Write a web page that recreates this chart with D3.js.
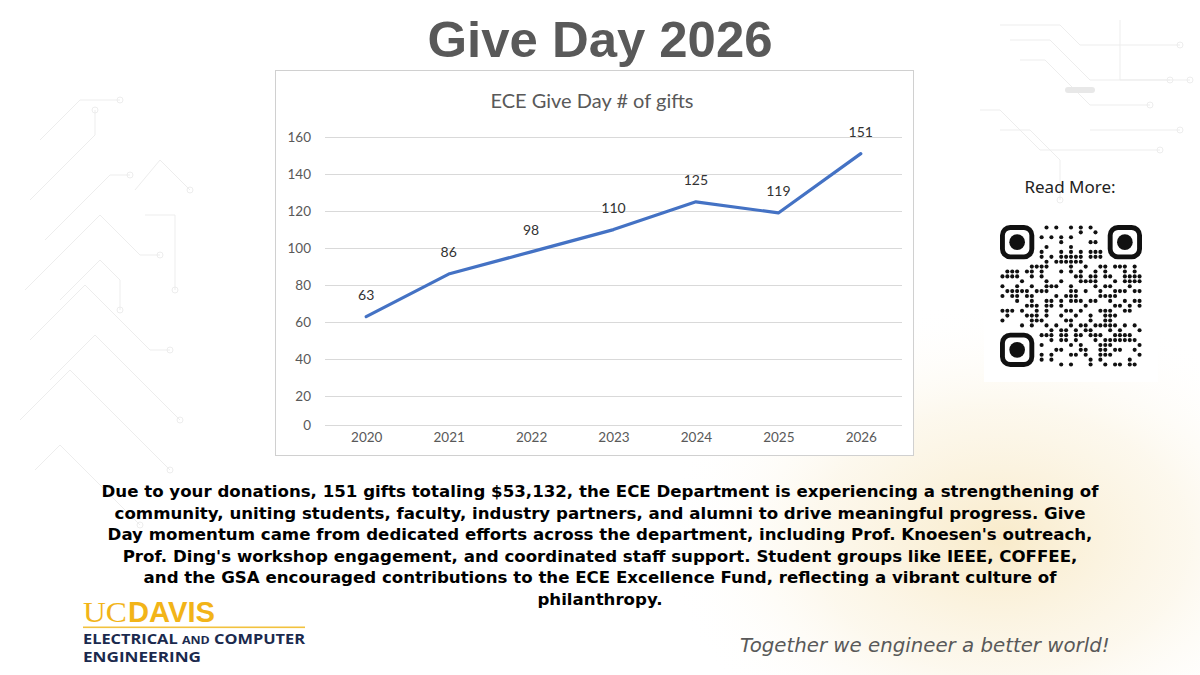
<!DOCTYPE html>
<html>
<head>
<meta charset="utf-8">
<script src="https://cdn.jsdelivr.net/npm/d3@7"></script>
<style>
  html, body { margin: 0; padding: 0; background: #ffffff; }
  svg { display: block; }
</style>
</head>
<body>
<script>
// chart values
var years = ["2020", "2021", "2022", "2023", "2024", "2025", "2026"];
var gifts = [63, 86, 98, 110, 125, 119, 151];
var yTicks = [0, 20, 40, 60, 80, 100, 120, 140, 160];

var pageTitle = "Give Day 2026";
var chartTitle = "ECE Give Day # of gifts";
var bodyLines = [
  "Due to your donations, 151 gifts totaling $53,132, the ECE Department is experiencing a strengthening of",
  "community, uniting students, faculty, industry partners, and alumni to drive meaningful progress. Give",
  "Day momentum came from dedicated efforts across the department, including Prof. Knoesen's outreach,",
  "Prof. Ding's workshop engagement, and coordinated staff support. Student groups like IEEE, COFFEE,",
  "and the GSA encouraged contributions to the ECE Excellence Fund, reflecting a vibrant culture of",
  "philanthropy."
];
var tagline = "Together we engineer a better world!";

var width = 1200, height = 675;

var svg = d3.select("body").append("svg")
    .attr("width", width)
    .attr("height", height);

var defs = svg.append("defs");
var glow = defs.append("radialGradient").attr("id", "glow")
    .attr("cx", "50%").attr("cy", "50%").attr("r", "50%");
glow.append("stop").attr("offset", "0%").attr("stop-color", "#f6e2b3").attr("stop-opacity", 0.7);
glow.append("stop").attr("offset", "55%").attr("stop-color", "#f9eed3").attr("stop-opacity", 0.4);
glow.append("stop").attr("offset", "100%").attr("stop-color", "#ffffff").attr("stop-opacity", 0);

svg.append("rect").attr("width", width).attr("height", height).attr("fill", "#ffffff");

// warm glow lower right
svg.append("ellipse")
    .attr("cx", 1000).attr("cy", 540)
    .attr("rx", 340).attr("ry", 240)
    .attr("fill", "url(#glow)");

// faint circuit traces (decoration)
var traces = svg.append("g").attr("fill", "none").attr("stroke", "#ededed").attr("stroke-width", 1);
var leftTraces = [
  [[40, 140], [80, 100], [120, 100]],
  [[30, 200], [95, 135], [95, 110]],
  [[45, 240], [110, 175], [130, 175]],
  [[25, 290], [100, 215], [140, 255], [160, 255]],
  [[60, 300], [100, 260], [120, 280], [120, 310]],
  [[30, 340], [85, 285], [150, 350], [170, 350]],
  [[50, 380], [95, 335], [180, 420]],
  [[20, 420], [70, 370], [170, 470]],
  [[35, 470], [60, 445], [140, 525]],
  [[145, 215], [175, 215], [175, 290]],
  [[135, 190], [160, 160], [190, 190]]
];
var rightTraces = [
  [[1000, 25], [1060, 25], [1080, 45], [1180, 45]],
  [[1010, 40], [1050, 40], [1090, 80], [1170, 80]],
  [[1020, 60], [1045, 60], [1090, 105], [1150, 105]],
  [[980, 110], [1000, 110], [1040, 150], [1160, 150]],
  [[1120, 20], [1120, 80], [1190, 80]],
  [[1000, 130], [1030, 130], [1060, 160], [1060, 200]],
  [[1090, 130], [1180, 130]]
];
leftTraces.concat(rightTraces).forEach(function(pts) {
  traces.append("path").attr("d", d3.line()(pts));
  var end = pts[pts.length - 1];
  traces.append("circle").attr("cx", end[0]).attr("cy", end[1]).attr("r", 3);
});
svg.append("rect").attr("x", 1065).attr("y", 87).attr("width", 30).attr("height", 6)
    .attr("rx", 3).attr("fill", "#e8e8e8");

// page title
var titleText = svg.append("text")
    .attr("x", 600).attr("y", 57)
    .attr("text-anchor", "middle")
    .attr("font-family", "'Liberation Sans', Arial, sans-serif")
    .attr("font-weight", "bold")
    .attr("font-size", 44)
    .attr("fill", "#595959")
    .text(pageTitle);

// chart frame
var box = { x: 275.5, y: 70.5, w: 638, h: 385 };
svg.append("rect")
    .attr("x", box.x).attr("y", box.y)
    .attr("width", box.w).attr("height", box.h)
    .attr("fill", "#ffffff")
    .attr("stroke", "#d0d0d0")
    .attr("stroke-width", 1);

svg.append("text")
    .attr("x", 592).attr("y", 108)
    .attr("text-anchor", "middle")
    .attr("font-family", "Lato, 'Open Sans', sans-serif")
    .attr("font-size", 20)
    .attr("fill", "#595959")
    .text(chartTitle);

var x = d3.scalePoint().domain(years).range([325, 902]).padding(0.5);
// the picture's bottom band (0-20) is drawn shorter than the rest
var y = d3.scaleLinear().domain([0, 20, 160]).range([424.7, 396.3, 137]);

var grid = svg.append("g");
grid.selectAll("line").data(yTicks).enter()
    .append("line")
    .attr("x1", 325).attr("x2", 902)
    .attr("y1", function(d) { return Math.round(y(d)) + 0.5; })
    .attr("y2", function(d) { return Math.round(y(d)) + 0.5; })
    .attr("stroke", "#d9d9d9")
    .attr("stroke-width", 1);

var yAxis = svg.append("g")
    .attr("transform", "translate(325,0)")
    .call(d3.axisLeft(y).tickValues(yTicks).tickSize(0).tickPadding(14));
yAxis.select(".domain").remove();
yAxis.selectAll("text")
    .attr("font-family", "Lato, 'Open Sans', sans-serif")
    .attr("font-size", 13.5)
    .attr("fill", "#595959");

var xAxis = svg.append("g")
    .attr("transform", "translate(0,425)")
    .call(d3.axisBottom(x).tickSize(0).tickPadding(7));
xAxis.select(".domain").remove();
xAxis.selectAll("text")
    .attr("font-family", "Lato, 'Open Sans', sans-serif")
    .attr("font-size", 13.5)
    .attr("fill", "#595959");

var points = years.map(function(yr, i) { return { year: yr, v: gifts[i] }; });

svg.append("path")
    .datum(points)
    .attr("fill", "none")
    .attr("stroke", "#4472c4")
    .attr("stroke-width", 3.2)
    .attr("stroke-linejoin", "round")
    .attr("stroke-linecap", "round")
    .attr("d", d3.line()
        .x(function(d) { return x(d.year); })
        .y(function(d) { return y(d.v); }));

svg.append("g").selectAll("text")
    .data(points).enter()
    .append("text")
    .attr("x", function(d) { return x(d.year); })
    .attr("y", function(d) { return y(d.v) - 17; })
    .attr("text-anchor", "middle")
    .attr("font-family", "Lato, 'Open Sans', sans-serif")
    .attr("font-size", 14)
    .attr("fill", "#333333")
    .text(function(d) { return d.v; });

// body paragraph
var body = svg.append("g")
    .attr("font-family", "'DejaVu Sans', Verdana, sans-serif")
    .attr("font-weight", "bold")
    .attr("font-size", 15)
    .attr("fill", "#000000")
    .attr("text-anchor", "middle");
var bodyText = body.selectAll("text").data(bodyLines).enter()
    .append("text")
    .attr("x", 600)
    .attr("y", function(d, i) { return 497 + i * 21.5; })
    .text(function(d) { return d; });
var firstLen = bodyText.node().getComputedTextLength();
body.attr("font-size", 15 * 998 / firstLen);

// tagline
var tag = svg.append("text")
    .attr("x", 740).attr("y", 652)
    .attr("font-family", "'DejaVu Sans', Verdana, sans-serif")
    .attr("font-style", "italic")
    .attr("font-size", 18)
    .attr("fill", "#595959")
    .text(tagline);
tag.attr("font-size", 18 * 370 / tag.node().getComputedTextLength());

// read more + QR panel
svg.append("text")
    .attr("x", 1070).attr("y", 193)
    .attr("text-anchor", "middle")
    .attr("font-family", "'Noto Sans', 'Open Sans', sans-serif")
    .attr("font-size", 17)
    .attr("fill", "#222222")
    .text("Read More:");

svg.append("rect")
    .attr("x", 984).attr("y", 207)
    .attr("width", 174).attr("height", 175)
    .attr("fill", "#ffffff");

var qrN = 29, qrX = 1000, qrY = 225, qrSize = 142;
var cell = qrSize / qrN;
var qr = svg.append("g").attr("fill", "#111111");
function inFinder(r, c) {
  return (r < 8 && c < 8) || (r < 8 && c >= qrN - 8) || (r >= qrN - 8 && c < 8);
}
// decorative module pattern
for (var r = 0; r < qrN; r++) {
  for (var c = 0; c < qrN; c++) {
    if (inFinder(r, c)) continue;
    var h = ((r * 73856093) ^ (c * 19349663) ^ (r * c * 83492791)) >>> 0;
    if ((h % 7) < 3 || (r === 6 && c % 2 === 0) || (c === 6 && r % 2 === 0)) {
      qr.append("circle")
          .attr("cx", qrX + (c + 0.5) * cell)
          .attr("cy", qrY + (r + 0.5) * cell)
          .attr("r", cell * 0.42);
    }
  }
}
[[0, 0], [0, qrN - 7], [qrN - 7, 0]].forEach(function(p) {
  var fx = qrX + p[1] * cell, fy = qrY + p[0] * cell;
  qr.append("rect")
      .attr("x", fx + cell * 0.5).attr("y", fy + cell * 0.5)
      .attr("width", cell * 6).attr("height", cell * 6)
      .attr("rx", cell * 1.6)
      .attr("fill", "none")
      .attr("stroke", "#111111")
      .attr("stroke-width", cell);
  qr.append("circle")
      .attr("cx", fx + cell * 3.5).attr("cy", fy + cell * 3.5)
      .attr("r", cell * 1.6);
});

// UC Davis logo
var logo = svg.append("g");
logo.append("text")
    .attr("x", 83).attr("y", 622)
    .attr("font-family", "'Liberation Serif', 'DejaVu Serif', serif")
    .attr("font-size", 30)
    .attr("fill", "#f2b418")
    .attr("textLength", 44).attr("lengthAdjust", "spacingAndGlyphs")
    .text("UC");
logo.append("text")
    .attr("x", 128).attr("y", 622)
    .attr("font-family", "'Liberation Sans', Arial, sans-serif")
    .attr("font-weight", "bold")
    .attr("font-size", 29)
    .attr("fill", "#f2b418")
    .attr("textLength", 87).attr("lengthAdjust", "spacingAndGlyphs")
    .text("DAVIS");
logo.append("rect")
    .attr("x", 83).attr("y", 626.5)
    .attr("width", 222).attr("height", 1.6)
    .attr("fill", "#f2c23e");
var l1 = logo.append("text")
    .attr("x", 83).attr("y", 644)
    .attr("font-family", "'Open Sans', 'Noto Sans', sans-serif")
    .attr("font-weight", "bold")
    .attr("font-size", 14.5)
    .attr("fill", "#1b2a4e")
    .attr("textLength", 222).attr("lengthAdjust", "spacingAndGlyphs");
l1.append("tspan").text("ELECTRICAL ");
l1.append("tspan").attr("font-size", 11).text("AND");
l1.append("tspan").text(" COMPUTER");
logo.append("text")
    .attr("x", 83).attr("y", 662)
    .attr("font-family", "'Open Sans', 'Noto Sans', sans-serif")
    .attr("font-weight", "bold")
    .attr("font-size", 14.5)
    .attr("fill", "#1b2a4e")
    .attr("textLength", 118).attr("lengthAdjust", "spacingAndGlyphs")
    .text("ENGINEERING");

// fit the page title to the reference width
titleText.attr("font-size", 44 * 345 / titleText.node().getComputedTextLength());
</script>
</body>
</html>
